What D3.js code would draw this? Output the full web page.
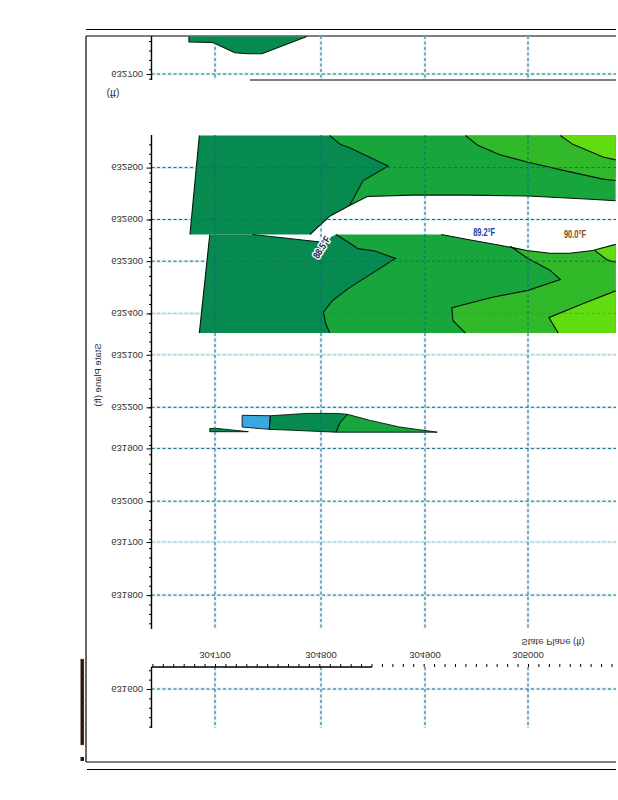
<!DOCTYPE html>
<html><head><meta charset="utf-8">
<script src="https://cdn.jsdelivr.net/npm/d3@7"></script>
<style>html,body{margin:0;padding:0;background:#fff}svg{display:block}</style>
</head><body><svg id="c" width="618" height="800"></svg>
<script>
// ---- data (State Plane feet) ----
const xTickValues = [304700, 304800, 304900, 305000];
const yTicksA = [631600, 631800, 632000, 632200, 632400, 632600];
const yTicksB = [631700, 631900, 632100, 632300, 632500, 632700];
const paleGridA = [632400];
const paleGridB = [631700, 632100];
const axisTitle = "State Plane (ft)";

const colDark = "#078a50", colMid = "#17a53c", colLight = "#32b92a", colBright = "#60dc10", colBlue = "#3aa8e0";

const stripTop = [[304675,632990],[304675,632978],[304698,632977],[304719,632955],[304732,632953],[304745,632953],[304788,632990]];

// upper block: contour is stroked, closure is not
const upperDark = [[304685,632779],[304676,632568]];
const upperDarkClose = [[304791,632568],[304810,632607],[304829,632630],[304842,632683],[304866,632714],[304829,632753],[304820,632760],[304810,632779]];
const upperGapEdge = [[304791,632568],[304810,632607],[304829,632630],[304846,632649],[304889,632652],[304942,632652],[305000,632650],[305060,632643],[305084,632640]];
const upperMidEdge = [[304810,632779],[304820,632760],[304829,632753],[304866,632714],[304842,632683],[304829,632630]];
const upperMidClose = [[304846,632649],[304889,632652],[304942,632652],[305000,632650],[305060,632643],[305084,632640],[305084,632779]];
const upperLightEdge = [[304940,632779],[304952,632758],[304973,632738],[305000,632722],[305037,632703],[305072,632686],[305084,632683]];
const upperLightClose = [[305084,632779]];
const upperBrightEdge = [[305031,632779],[305043,632760],[305072,632733],[305084,632727]];
const upperBrightClose = [[305084,632779]];

// lower block
const lowerDarkEdge = [[304695,632568],[304685,632358]];
const lowerDarkClose = [[304810,632358],[304806,632379],[304804,632403],[304813,632428],[304829,632455],[304873,632517],[304853,632533],[304837,632538],[304829,632550],[304816,632568],[304801,632552],[304769,632560],[304736,632568]];
const lowerGapA = [[304736,632568],[304769,632560],[304801,632552]];
const lowerGapB = [[304917,632568],[304941,632558],[304973,632545],[304999,632534],[305021,632528],[305040,632528],[305062,632534],[305084,632547]];
const lowerMidEdge = [[304816,632568],[304829,632550],[304837,632538],[304853,632533],[304873,632517],[304829,632455],[304813,632428],[304804,632403],[304806,632379],[304810,632358]];
const lowerMidClose = [[305084,632358],[305084,632547],[305062,632534],[305040,632528],[305021,632528],[304999,632534],[304973,632545],[304941,632558],[304917,632568]];
const lowerLightEdge = [[304983,632543],[305000,632517],[305021,632492],[305031,632472],[305000,632449],[304967,632435],[304927,632412],[304928,632385],[304940,632358]];
const lowerLightClose = [[305084,632358],[305084,632547],[305062,632534],[305040,632528],[305021,632528],[304999,632534]];
const lowerBrightEdge = [[305084,632448],[305053,632421],[305020,632391],[305029,632358]];
const lowerBrightClose = [[305084,632358]];
const cornerBrightEdge = [[305064,632534],[305076,632514],[305084,632509]];
const cornerBrightClose = [[305084,632547],[305062,632534]];

// sliver block
const sliverWedge = [[304695,632155],[304702,632155],[304732,632148],[304695,632148]];
const sliverBlue = [[304726,632183],[304753,632182],[304752,632153],[304726,632158]];
const sliverDark = [[304753,632182],[304788,632187],[304817,632187],[304827,632185],[304820,632168],[304816,632147],[304775,632151],[304752,632153]];
const sliverMid = [[304827,632185],[304849,632172],[304877,632158],[304913,632147],[304816,632147],[304820,632168]];

const tempLabels = [
  {t:"89.2°F", x:304958, y:632565, c:"#1c3f9c"},
  {t:"90.0°F", x:305045, y:632560, c:"#7a4a18"}
];
const rotatedLabel = {t:"88.5°F", x:304805, y:632537};

// ---- scales ----
const x = d3.scaleLinear().domain([304700,305000]).range([215,528]);
const xGrid = d3.scaleLinear().domain(xTickValues).range([215,321,425,528]);
const y = d3.scaleLinear().domain([631600,632600]).range([689,219.5]);
const yB = d3.scaleLinear().domain([631700,632700]).range([542,74]);
const svg = d3.select("#c");
const LEFT=151.5, RIGHT=616;
const segments=[[36,80],[135,629],[667,728]];
const gridInk="#1a6480", halo="#d9f0f6";
const font="'Liberation Sans',Arial,sans-serif";
const path = d3.line().x(d=>x(d[0])).y(d=>y(d[1]));
const poly = pts => path(pts)+"Z";

const flip=(sel,px,py,anchor,size,txt,fill)=>sel.append("text")
  .attr("transform",`translate(${px},${py}) scale(1,-1)`)
  .attr("text-anchor",anchor).attr("font-family",font).attr("font-size",size)
  .attr("fill",fill||"#333").text(txt);

// frame
const rule=(a,b,c,d,w)=>svg.append("line").attr("x1",a).attr("y1",b).attr("x2",c).attr("y2",d).attr("stroke","#000").attr("stroke-width",w||1.2);
rule(86,29.5,RIGHT,29.5); rule(86,36,RIGHT,36); rule(86,36,86,762); rule(86,762,RIGHT,762); rule(87,769.5,RIGHT,769.5);

// pale halos beneath marks
const halos=svg.append("g").attr("stroke",halo).attr("stroke-width",3).attr("opacity",.75);
xTickValues.forEach(v=>segments.forEach(s=>halos.append("line").attr("x1",xGrid(v)).attr("x2",xGrid(v)).attr("y1",s[0]).attr("y2",s[1])));
[...yTicksA.map(v=>y(v)),...yTicksB.map(v=>yB(v))].forEach(p=>halos.append("line").attr("x1",LEFT).attr("x2",RIGHT).attr("y1",p).attr("y2",p));

// filled regions
const fills=[
 [stripTop,colDark],
 [[...upperDark,...upperDarkClose],colDark],
 [[...upperMidEdge,...upperMidClose],colMid],
 [[...upperLightEdge,...upperLightClose],colLight],
 [[...upperBrightEdge,...upperBrightClose],colBright],
 [[...lowerDarkEdge,...lowerDarkClose],colDark],
 [[...lowerMidEdge,...lowerMidClose],colMid],
 [[...lowerLightEdge,...lowerLightClose],colLight],
 [[...lowerBrightEdge,...lowerBrightClose],colBright],
 [[...cornerBrightEdge,...cornerBrightClose],colBright],
 [sliverWedge,colDark],[sliverBlue,colBlue],[sliverDark,colDark],[sliverMid,colMid]
];
svg.append("g").selectAll("path").data(fills).join("path").attr("d",d=>poly(d[0])).attr("fill",d=>d[1]);

// contours
const edges=[stripTop,upperDark,upperGapEdge,upperMidEdge,upperLightEdge,upperBrightEdge,lowerDarkEdge,lowerGapA,lowerGapB,lowerMidEdge,lowerLightEdge,lowerBrightEdge,cornerBrightEdge];
svg.append("g").attr("fill","none").attr("stroke","#03140c").attr("stroke-width",1.1)
  .selectAll("path").data(edges).join("path").attr("d",path);
svg.append("g").attr("fill","none").attr("stroke","#03140c").attr("stroke-width",.9)
  .selectAll("path").data([sliverWedge,sliverBlue,sliverDark,sliverMid]).join("path").attr("d",poly);

// dashed grid
const grid=svg.append("g").attr("stroke",gridInk).attr("stroke-width",1).attr("stroke-dasharray","3,2.5");
xTickValues.forEach(v=>segments.forEach(s=>grid.append("line").attr("x1",xGrid(v)).attr("x2",xGrid(v)).attr("y1",s[0]).attr("y2",s[1])));
yTicksA.forEach(v=>grid.append("line").attr("x1",LEFT).attr("x2",RIGHT).attr("y1",y(v)).attr("y2",y(v)).attr("opacity",paleGridA.includes(v)?.3:1));
yTicksB.forEach(v=>grid.append("line").attr("x1",LEFT).attr("x2",RIGHT).attr("y1",yB(v)).attr("y2",yB(v)).attr("opacity",paleGridB.includes(v)?.3:1));

// y axis
segments.forEach(s=>rule(LEFT,s[0],LEFT,s[1],1.4));
rule(250,80,RIGHT,80,1.2);
const inSeg=p=>segments.some(s=>p>=s[0]&&p<=s[1]);
const minor=d3.range(631360,633000,20).filter(v=>inSeg(y(v)));
const yMinorAxis=d3.axisLeft(y).tickValues(minor).tickSize(2.5).tickFormat("");
const gm=svg.append("g").attr("transform",`translate(${LEFT},0)`).call(yMinorAxis);
gm.select(".domain").remove(); gm.selectAll("line").attr("stroke","#000");
const fmt=d3.format("d");
[[yTicksA,y],[yTicksB,yB]].forEach(([vals,sc])=>{
  const g=svg.append("g").attr("transform",`translate(${LEFT},0)`).call(d3.axisLeft(sc).tickValues(vals).tickSize(5).tickFormat(""));
  g.select(".domain").remove(); g.selectAll("line").attr("stroke","#000");
  vals.forEach(v=>flip(svg,143,sc(v)-3.3,"end",9.5,fmt(v)));
});

// x axis
rule(LEFT,667,372,667,1.3);
const xm=svg.append("g").attr("transform","translate(0,667)").call(d3.axisTop(x).tickValues(d3.range(304640,305090,10)).tickSize(3).tickFormat(""));
xm.select(".domain").remove(); xm.selectAll("line").attr("stroke","#000");
xTickValues.forEach(v=>flip(svg,xGrid(v),651.7,"middle",9.5,fmt(v)));

// axis titles (the scan is mirrored top to bottom)
flip(svg,553,638.5,"middle",9.5,axisTitle);
svg.append("text").attr("transform","translate(101,375) scale(1,-1) rotate(-90)")
  .attr("text-anchor","middle").attr("font-family",font).attr("font-size",9.5).attr("fill","#333").text(axisTitle);
flip(svg,113,90,"middle",10.5,"(ft)");

// temperature labels
const narrow="'Liberation Sans Narrow','Liberation Sans',sans-serif";
tempLabels.forEach(d=>svg.append("text").attr("x",x(d.x)).attr("y",y(d.y)).attr("text-anchor","middle")
  .attr("font-family",narrow).attr("font-weight","bold").attr("font-size",10).attr("textLength",22).attr("lengthAdjust","spacingAndGlyphs").attr("fill",d.c).text(d.t));
svg.append("text").attr("transform",`translate(${x(rotatedLabel.x)},${y(rotatedLabel.y)}) rotate(-58)`)
  .attr("text-anchor","middle").attr("font-family",narrow).attr("font-weight","bold").attr("font-size",10)
  .attr("textLength",24).attr("lengthAdjust","spacingAndGlyphs")
  .attr("fill","#14204a").attr("stroke","#fff").attr("stroke-width",3).attr("paint-order","stroke").text(rotatedLabel.t);

// illegible margin print line
svg.append("rect").attr("x",80.5).attr("y",659).attr("width",3.5).attr("height",86).attr("fill","#1a1a30").attr("stroke","#c98a2a").attr("stroke-width",.5).attr("stroke-dasharray","4,2");
svg.append("rect").attr("x",80.5).attr("y",757).attr("width",3.5).attr("height",4).attr("fill","#1a1a30");
</script></body></html>
